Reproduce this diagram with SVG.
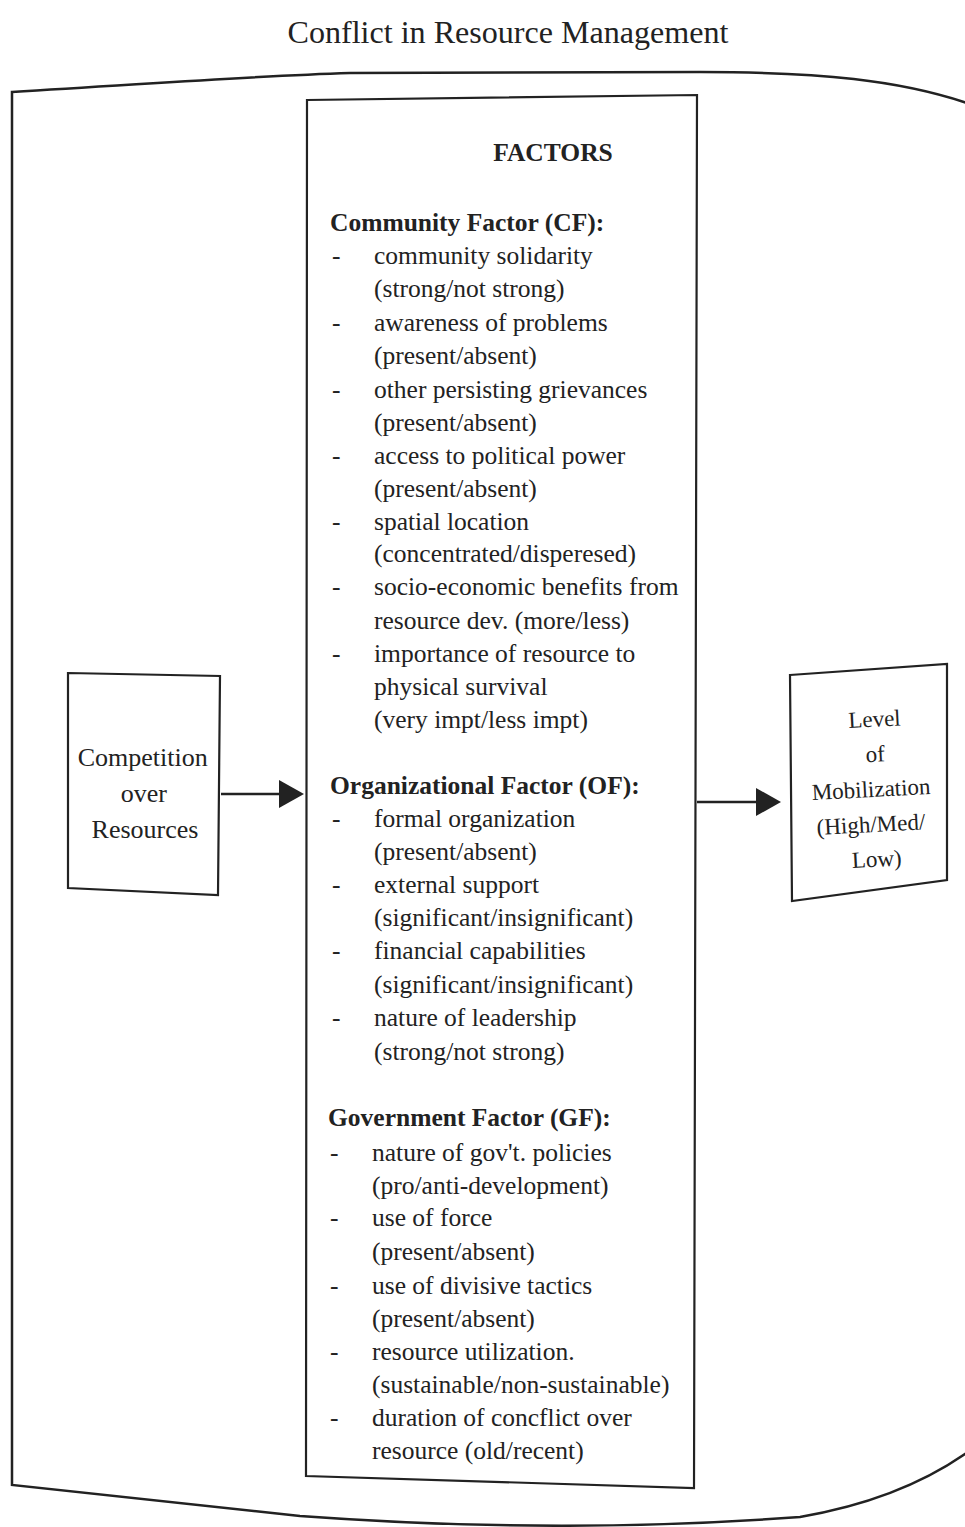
<svg xmlns="http://www.w3.org/2000/svg" width="965" height="1527" viewBox="0 0 965 1527">
<style>
  .t { font-family: "Liberation Serif", "Times New Roman", serif; fill: #222; }
  .body { font-size: 25.5px; }
  .head { font-size: 25.5px; font-weight: bold; }
  .frame { fill: none; stroke: #222; stroke-width: 2.5; }
  .box { fill: #fff; stroke: #222; stroke-width: 2.2; }
  .conn { stroke: #222; stroke-width: 2.5; fill: none; }
</style>
<rect width="965" height="1527" fill="#fff"/>
<text class="t" x="508" y="43" font-size="32" text-anchor="middle" textLength="441" lengthAdjust="spacingAndGlyphs">Conflict in Resource Management</text>

<g id="frame">
  <path class="frame" d="M970,104 C900,80 820,72 700,72 L350,73 C250,76 150,84 12,92 L12,1485 L300,1516 Q560,1535 800,1517 Q900,1500 968,1452"/>
</g>

<g id="connectors">
  <line class="conn" x1="221" y1="794" x2="282" y2="794"/>
  <path d="M279,780 L304,794 L279,808 Z" fill="#222"/>
  <line class="conn" x1="697" y1="802" x2="760" y2="802"/>
  <path d="M756,788 L781,802 L756,816 Z" fill="#222"/>
</g>

<g id="competition">
  <polygon class="box" points="68,673 220,676 218,895 68,888"/>
  <text class="t" font-size="26" text-anchor="middle">
    <tspan x="146" y="766">Competition</tspan>
    <tspan x="147" y="802">over</tspan>
    <tspan x="145" y="838">Resources</tspan>
  </text>
</g>

<g id="mobilization">
  <polygon class="box" points="790,675 947,664 947,880 792,901"/>
  <g transform="rotate(-3 871 790)">
    <text class="t" font-size="23" text-anchor="middle">
      <tspan x="881" y="727">Level</tspan>
      <tspan x="880" y="762">of</tspan>
      <tspan x="874" y="797">Mobilization</tspan>
      <tspan x="872" y="832">(High/Med/</tspan>
      <tspan x="873" y="867">Low)</tspan>
    </text>
  </g>
</g>

<g id="factors">
  <polygon class="box" points="307,100 697,95 694,1488 306,1476"/>
  <text class="t head" x="553" y="161" text-anchor="middle">FACTORS</text>

  <text class="t head" x="330" y="231">Community Factor (CF):</text>
  <g class="t body">
    <text x="332" y="264">-</text><text x="374" y="264">community solidarity</text>
    <text x="374" y="297">(strong/not strong)</text>
    <text x="332" y="331">-</text><text x="374" y="331">awareness of problems</text>
    <text x="374" y="364">(present/absent)</text>
    <text x="332" y="398">-</text><text x="374" y="398">other persisting grievances</text>
    <text x="374" y="431">(present/absent)</text>
    <text x="332" y="464">-</text><text x="374" y="464">access to political power</text>
    <text x="374" y="497">(present/absent)</text>
    <text x="332" y="530">-</text><text x="374" y="530">spatial location</text>
    <text x="374" y="562">(concentrated/disperesed)</text>
    <text x="332" y="595">-</text><text x="374" y="595">socio-economic benefits from</text>
    <text x="374" y="629">resource dev. (more/less)</text>
    <text x="332" y="662">-</text><text x="374" y="662">importance of resource to</text>
    <text x="374" y="695">physical survival</text>
    <text x="374" y="728">(very impt/less impt)</text>
  </g>

  <text class="t head" x="330" y="794">Organizational Factor (OF):</text>
  <g class="t body">
    <text x="332" y="827">-</text><text x="374" y="827">formal organization</text>
    <text x="374" y="860">(present/absent)</text>
    <text x="332" y="893">-</text><text x="374" y="893">external support</text>
    <text x="374" y="926">(significant/insignificant)</text>
    <text x="332" y="959">-</text><text x="374" y="959">financial capabilities</text>
    <text x="374" y="993">(significant/insignificant)</text>
    <text x="332" y="1026">-</text><text x="374" y="1026">nature of leadership</text>
    <text x="374" y="1060">(strong/not strong)</text>
  </g>

  <text class="t head" x="328" y="1126">Government Factor (GF):</text>
  <g class="t body">
    <text x="330" y="1161">-</text><text x="372" y="1161">nature of gov't. policies</text>
    <text x="372" y="1194">(pro/anti-development)</text>
    <text x="330" y="1226">-</text><text x="372" y="1226">use of force</text>
    <text x="372" y="1260">(present/absent)</text>
    <text x="330" y="1294">-</text><text x="372" y="1294">use of divisive tactics</text>
    <text x="372" y="1327">(present/absent)</text>
    <text x="330" y="1360">-</text><text x="372" y="1360">resource utilization.</text>
    <text x="372" y="1393">(sustainable/non-sustainable)</text>
    <text x="330" y="1426">-</text><text x="372" y="1426">duration of concflict over</text>
    <text x="372" y="1459">resource (old/recent)</text>
  </g>
</g>
</svg>
